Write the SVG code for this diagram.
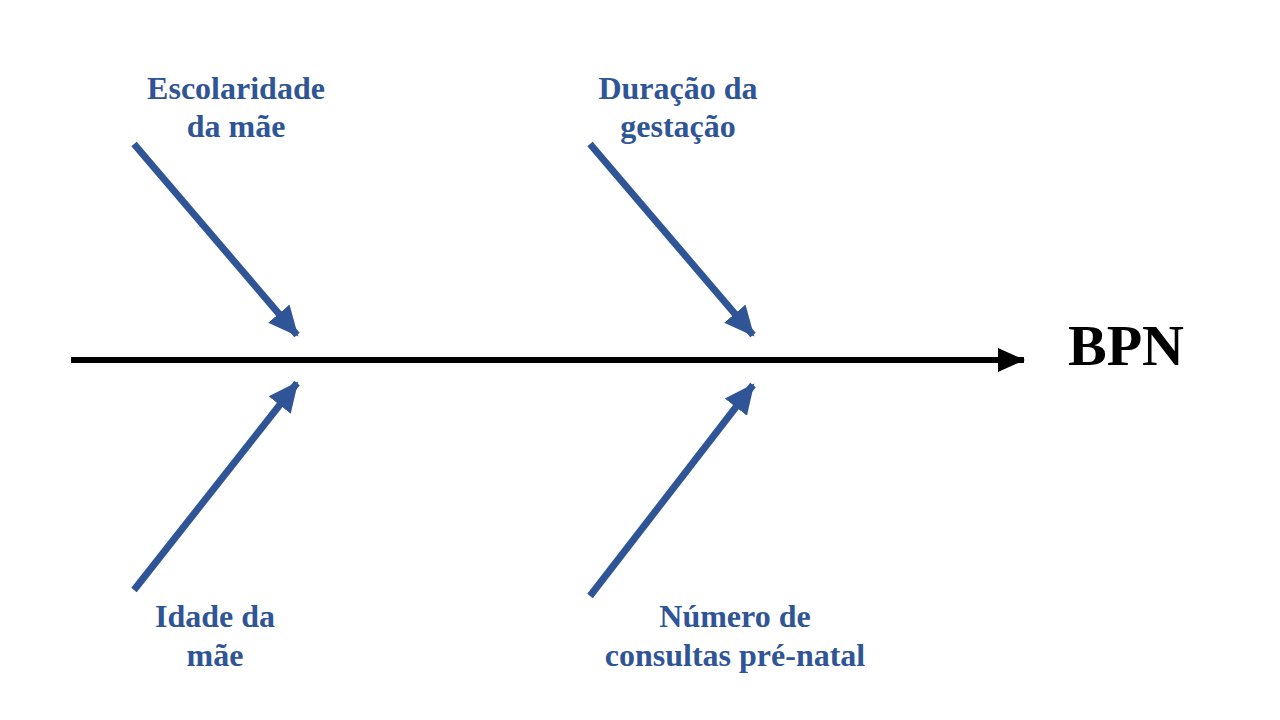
<svg xmlns="http://www.w3.org/2000/svg" width="1280" height="720" viewBox="0 0 1280 720">
<style>
.lbl{font-family:"Liberation Serif","Times New Roman",serif;font-weight:bold;font-size:32px;fill:#2F5597;text-anchor:middle}
.bone{stroke:#2F5597;stroke-width:7;fill:none}
.spine{stroke:#000;stroke-width:6;fill:none}
</style>
<defs>
<marker id="ab" markerUnits="userSpaceOnUse" markerWidth="34" markerHeight="34" viewBox="0 0 34 34" refX="28" refY="17" orient="auto">
<path d="M0,3 L30,17 L0,31 Z" fill="#2F5597"/>
</marker>
<marker id="ak" markerUnits="userSpaceOnUse" markerWidth="30" markerHeight="30" viewBox="0 0 30 30" refX="26" refY="15" orient="auto">
<path d="M0,3 L27,15 L0,27 Z" fill="#000"/>
</marker>
</defs>
<rect width="1280" height="720" fill="#fff"/>
<g id="connectors">
<line class="spine" x1="71" y1="360" x2="1024" y2="360" marker-end="url(#ak)"/>
<line class="bone" x1="134" y1="144" x2="297" y2="335" marker-end="url(#ab)"/>
<line class="bone" x1="590" y1="144" x2="753" y2="335" marker-end="url(#ab)"/>
<line class="bone" x1="134" y1="590" x2="297" y2="383" marker-end="url(#ab)"/>
<line class="bone" x1="590" y1="596" x2="753" y2="385" marker-end="url(#ab)"/>
</g>
<g id="escolaridade"><text class="lbl" x="236" y="99">Escolaridade</text><text class="lbl" x="236" y="137">da mãe</text></g>
<g id="duracao"><text class="lbl" x="678" y="99">Duração da</text><text class="lbl" x="678" y="137">gestação</text></g>
<g id="idade"><text class="lbl" x="215" y="627">Idade da</text><text class="lbl" x="215" y="666">mãe</text></g>
<g id="numero"><text class="lbl" x="735" y="627">Número de</text><text class="lbl" x="735" y="666">consultas pré-natal</text></g>
<g id="bpn"><text x="1126" y="365" font-family="'Liberation Serif','Times New Roman',serif" font-weight="bold" font-size="58" text-anchor="middle" fill="#000">BPN</text></g>
</svg>
